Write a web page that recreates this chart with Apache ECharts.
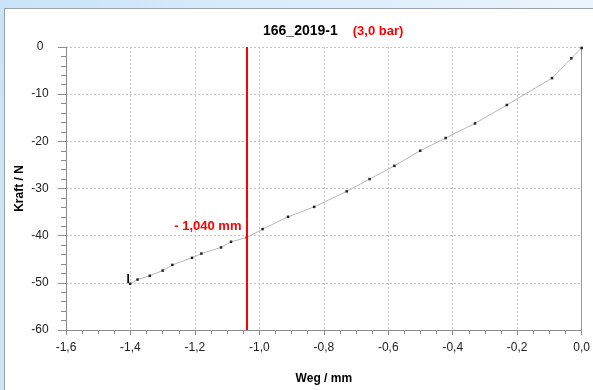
<!DOCTYPE html>
<html>
<head>
<meta charset="utf-8">
<script src="https://cdn.jsdelivr.net/npm/echarts@6/dist/echarts.min.js"></script>
<style>
  html, body { margin: 0; padding: 0; }
  body {
    width: 593px; height: 390px; overflow: hidden; position: relative;
    background: linear-gradient(100deg, #c9e3f8 0%, #dcedfb 45%, #eef6fd 100%);
  }
  #panel {
    position: absolute; left: 4px; top: 8px; width: 600px; height: 400px;
    background: #ffffff; border: 1px solid #9aa3ad;
  }
  #chart { position: absolute; left: 0; top: 0; width: 593px; height: 390px; }
</style>
</head>
<body>
<div id="panel"></div>
<div id="chart"></div>
<script>
// Kraft-Weg-Messung 166_2019-1 bei 3,0 bar
const titleMain = '166_2019-1';
const titlePressure = '(3,0 bar)';
const weg = [-1.401, -1.378, -1.340, -1.300, -1.270, -1.209, -1.180, -1.119, -1.088, -1.039,
             -0.990, -0.911, -0.830, -0.729, -0.658, -0.581, -0.501, -0.422, -0.331, -0.232,
             -0.092, -0.032, 0.0];
const kraft = [-50.2, -49.3, -48.5, -47.4, -46.2, -44.7, -43.8, -42.5, -41.3, -40.4,
               -38.6, -36.0, -33.9, -30.6, -28.0, -25.2, -22.0, -19.3, -16.2, -12.3,
               -6.6, -2.4, -0.2];
const markerWeg = -1.040;
const markerLabelKraft = -38.1;
const startLabel = 'I';
const xTicks = [-1.6, -1.4, -1.2, -1.0, -0.8, -0.6, -0.4, -0.2, 0.0];
const yTicks = [0, -10, -20, -30, -40, -50, -60];

const comma = (v, d) => v.toFixed(d).replace('.', ',');
const font = 'Liberation Sans, Arial, sans-serif';

const points = weg.map((x, i) => {
  const p = { value: [x, kraft[i]] };
  if (i === 0) {
    p.label = {
      show: true, formatter: startLabel, position: 'left', distance: 0,
      offset: [1, -4], color: '#000', fontWeight: 'bold', fontSize: 12, fontFamily: font
    };
  }
  return p;
});

const chart = echarts.init(document.getElementById('chart'), null, { renderer: 'canvas' });
const gridLine = { show: true, lineStyle: { color: '#c4c4c4', type: [2, 2], width: 1 } };

chart.setOption({
  animation: false,
  backgroundColor: 'transparent',
  title: {
    text: '{a|' + titleMain + '}   {b|' + titlePressure + '}',
    left: 258, top: 17,
    textStyle: {
      rich: {
        a: { fontSize: 14, fontWeight: 'bold', color: '#000', fontFamily: font },
        b: { fontSize: 13, fontWeight: 'bold', color: '#ff0000', fontFamily: font }
      }
    }
  },
  grid: { left: 66, right: 7, top: 47, bottom: 60, containLabel: false },
  xAxis: [{
    type: 'value', min: -1.6, max: 0, interval: 0.2,
    name: 'Weg / mm', nameLocation: 'middle', nameGap: 43, nameMoveOverlap: false,
    nameTextStyle: { fontSize: 12, fontWeight: 'bold', color: '#000', fontFamily: font },
    axisLine: { show: true, onZero: false, lineStyle: { color: '#8c8c8c' } },
    axisTick: { show: true, length: 5, lineStyle: { color: '#8c8c8c' } },
    minorTick: { show: true, splitNumber: 4, length: 4, lineStyle: { color: '#8c8c8c' } },
    axisLabel: {
      margin: 12, fontSize: 12, color: '#222', fontFamily: font,
      formatter: v => xTicks.some(t => Math.abs(t - v) < 1e-6) ? comma(v, 1) : ''
    },
    splitLine: gridLine
  }],
  yAxis: [{
    type: 'value', min: -60, max: 0, interval: 10,
    name: 'Kraft / N', nameLocation: 'middle', nameGap: 40, nameRotate: 90, nameMoveOverlap: false,
    nameTextStyle: { fontSize: 12, fontWeight: 'bold', color: '#000', fontFamily: font },
    axisLine: { show: true, onZero: false, lineStyle: { color: '#8c8c8c' } },
    axisTick: { show: true, length: 8, lineStyle: { color: '#8c8c8c' } },
    minorTick: { show: true, splitNumber: 5, length: 5, lineStyle: { color: '#8c8c8c' } },
    axisLabel: {
      margin: 26, align: 'center', fontSize: 12, color: '#222', fontFamily: font,
      formatter: v => yTicks.includes(v) ? String(v) : ''
    },
    splitLine: gridLine
  }, {
    type: 'value', min: -60, max: 0, interval: 10, position: 'right',
    axisLine: { show: true, onZero: false, lineStyle: { color: '#9a9a9a' } },
    axisTick: { show: false }, axisLabel: { show: false }, splitLine: { show: false }
  }],
  series: [{
    type: 'line',
    data: points,
    symbol: 'rect', symbolSize: 2.5, showSymbol: true,
    itemStyle: { color: '#222' },
    lineStyle: { color: '#b8b8b8', width: 1 },
    z: 3,
    markLine: {
      silent: true, symbol: 'none',
      lineStyle: { color: '#ff0000', width: 2, type: 'solid' },
      label: { show: false },
      data: [{ xAxis: markerWeg }]
    },
    markPoint: {
      symbol: 'circle', symbolSize: 0,
      data: [{
        coord: [markerWeg, markerLabelKraft],
        label: {
          show: true, position: 'left', distance: 5,
          formatter: '- ' + comma(Math.abs(markerWeg), 3) + ' mm',
          color: '#ff0000', fontSize: 13, fontWeight: 'bold', fontFamily: font
        }
      }]
    }
  }]
});
</script>
</body>
</html>
